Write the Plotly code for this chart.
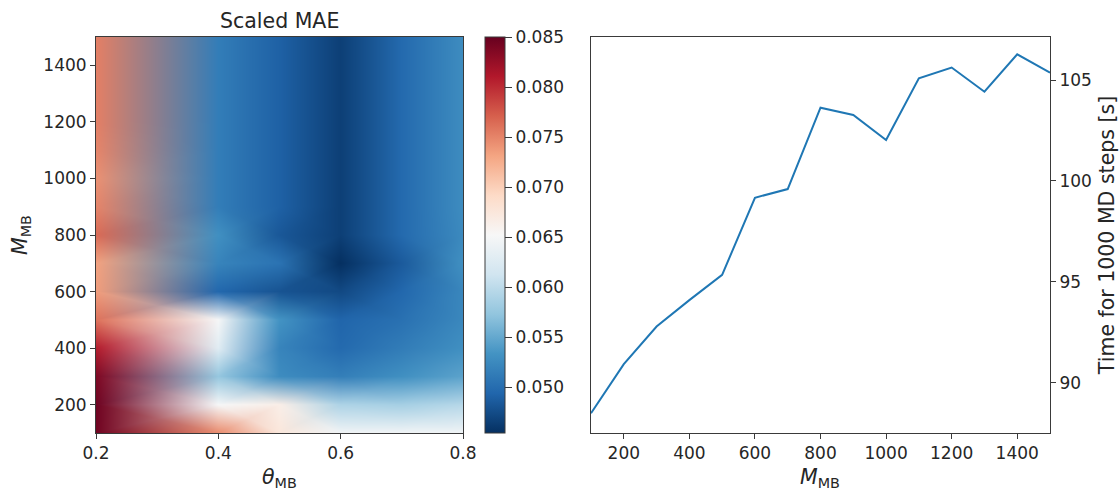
import numpy as np
import plotly.graph_objects as go

theta_mb = [0.2, 0.4, 0.5, 0.6, 0.7, 0.8]
m_mb = [100, 200, 300, 400, 500, 600, 700, 800, 900, 1000, 1100, 1200, 1300, 1400, 1500]
# rows: M_MB ascending; columns: theta_mb
mae = [
    [0.0845, 0.0745, 0.0675, 0.0645, 0.0645, 0.0645],
    [0.0846, 0.0650, 0.0665, 0.0590, 0.0585, 0.0595],
    [0.0838, 0.0575, 0.0527, 0.0515, 0.0530, 0.0545],
    [0.0808, 0.0628, 0.0520, 0.0497, 0.0513, 0.0530],
    [0.0760, 0.0650, 0.0533, 0.0493, 0.0503, 0.0523],
    [0.0736, 0.0495, 0.0480, 0.0472, 0.0495, 0.0522],
    [0.0733, 0.0520, 0.0505, 0.0454, 0.0485, 0.0530],
    [0.0765, 0.0530, 0.0483, 0.0465, 0.0497, 0.0525],
    [0.0750, 0.0514, 0.0490, 0.0465, 0.0497, 0.0527],
    [0.0743, 0.0514, 0.0490, 0.0465, 0.0497, 0.0527],
    [0.0750, 0.0514, 0.0490, 0.0465, 0.0497, 0.0527],
    [0.0753, 0.0514, 0.0490, 0.0465, 0.0497, 0.0527],
    [0.0753, 0.0514, 0.0490, 0.0465, 0.0497, 0.0527],
    [0.0753, 0.0514, 0.0490, 0.0465, 0.0497, 0.0527],
    [0.0753, 0.0514, 0.0490, 0.0465, 0.0497, 0.0527],
]
time_1000 = [88.5, 90.93, 92.79, 94.1, 95.35, 99.17, 99.6, 103.63, 103.27, 102.03,
             105.08, 105.62, 104.42, 106.27, 105.36]
cbar_ticks = [0.05, 0.055, 0.06, 0.065, 0.07, 0.075, 0.08, 0.085]
c_min, c_max = 0.0454, 0.085
rdbu_r = [(5, 48, 97), (33, 102, 172), (67, 147, 195), (146, 197, 222), (209, 229, 240),
          (247, 247, 247), (253, 219, 199), (244, 165, 130), (214, 96, 77), (178, 24, 43),
          (103, 0, 31)]

W, H = 1119, 490
ML, MR = 20, 20
def fx(p): return (p - ML) / (W - ML - MR)
def fy(p): return 1 - p / H

TXT = "#262626"
LINE = "#3a3a3a"
FS_TICK, FS_LABEL = 17, 20.5
axis_common = dict(showline=True, linecolor=LINE, linewidth=1, ticks="outside", ticklen=5,
                   tickcolor=LINE, tickfont=dict(size=FS_TICK, color=TXT), showgrid=False,
                   zeroline=False)


def value_rgb(z):
    stops = np.linspace(0, 1, len(rdbu_r))
    t = np.clip((np.asarray(z) - c_min) / (c_max - c_min), 0, 1)
    return np.stack([np.interp(t, stops, [c[i] for c in rdbu_r]) for i in range(3)], axis=-1)


def gouraud_image(xs, ys, zs, nx, ny):
    """Colour each quad of the data grid with corner colours blended in RGB over
    four triangles meeting at the quad's centre."""
    xs, ys = np.asarray(xs, float), np.asarray(ys, float)
    rgb = value_rgb(zs)
    px = xs[0] + (np.arange(nx) + 0.5) * (xs[-1] - xs[0]) / nx
    py = ys[0] + (np.arange(ny) + 0.5) * (ys[-1] - ys[0]) / ny
    ix = np.clip(np.searchsorted(xs, px) - 1, 0, len(xs) - 2)
    iy = np.clip(np.searchsorted(ys, py) - 1, 0, len(ys) - 2)
    u = ((px - xs[ix]) / (xs[ix + 1] - xs[ix]))[None, :, None]
    v = ((py - ys[iy]) / (ys[iy + 1] - ys[iy]))[:, None, None]
    I, J = np.meshgrid(ix, iy)
    c00, c10 = rgb[J, I], rgb[J, I + 1]
    c01, c11 = rgb[J + 1, I], rgb[J + 1, I + 1]
    mid = (c00 + c10 + c01 + c11) / 4
    bottom = (1 - u - v) * c00 + (u - v) * c10 + 2 * v * mid
    top = (v - u) * c01 + (u + v - 1) * c11 + 2 * (1 - v) * mid
    left = (1 - u - v) * c00 + (v - u) * c01 + 2 * u * mid
    right = (u - v) * c10 + (u + v - 1) * c11 + 2 * (1 - u) * mid
    out = np.where(v <= np.minimum(u, 1 - u), bottom,
                   np.where(v >= np.maximum(u, 1 - u), top, np.where(u < 0.5, left, right)))
    return np.clip(np.rint(out), 0, 255).astype(np.uint8)


nx_img, ny_img = 367, 396
dx_img = (theta_mb[-1] - theta_mb[0]) / nx_img
dy_img = (m_mb[-1] - m_mb[0]) / ny_img

fig = go.Figure()
fig.add_trace(go.Heatmap(x=theta_mb, y=m_mb, z=mae, zsmooth="best", coloraxis="coloraxis",
                         opacity=0, xaxis="x", yaxis="y"))
fig.add_trace(go.Image(z=gouraud_image(theta_mb, m_mb, mae, nx_img, ny_img), colormodel="rgb",
                       x0=theta_mb[0] + dx_img / 2, dx=dx_img,
                       y0=m_mb[0] + dy_img / 2, dy=dy_img, xaxis="x", yaxis="y",
                       hoverinfo="skip"))
fig.add_trace(go.Scatter(x=m_mb, y=time_1000, mode="lines", line=dict(color="#1f77b4", width=2),
                         xaxis="x2", yaxis="y2", showlegend=False))

fig.update_layout(
    width=W, height=H, autosize=False, margin=dict(l=ML, r=MR, t=0, b=0),
    paper_bgcolor="white", plot_bgcolor="white", showlegend=False,
    font=dict(family="DejaVu Sans", color=TXT, size=FS_TICK),
    coloraxis=dict(
        colorscale=[[i / 10, "rgb(%d,%d,%d)" % c] for i, c in enumerate(rdbu_r)],
        cmin=c_min, cmax=c_max,
        colorbar=dict(x=fx(485), xanchor="left", thickness=20, thicknessmode="pixels",
                      y=fy(433), yanchor="bottom", len=396 / H, lenmode="fraction",
                      tickvals=cbar_ticks, tickformat=".3f", ticks="outside", ticklen=7,
                      tickcolor=LINE, tickfont=dict(size=FS_TICK, color=TXT),
                      outlinecolor=LINE, outlinewidth=1, xpad=0, ypad=0),
    ),
    xaxis=dict(axis_common, domain=[fx(96), fx(463)], range=[0.2, 0.8],
               tickvals=[0.2, 0.4, 0.6, 0.8], tickformat=".1f", mirror=True, anchor="y",
               scaleanchor=False),
    yaxis=dict(axis_common, domain=[fy(433), fy(37)], range=[100, 1500],
               tickvals=list(range(200, 1401, 200)), mirror=True, anchor="x", scaleanchor=False,
               title=dict(text="<i>M</i><sub>MB</sub>", font=dict(size=FS_LABEL, color=TXT),
                          standoff=10)),
    xaxis2=dict(axis_common, domain=[fx(591), fx(1050)], range=[100, 1500],
                tickvals=list(range(200, 1401, 200)), mirror=True, anchor="y2"),
    yaxis2=dict(axis_common, domain=[fy(433), fy(37)], range=[87.52, 107.13],
                tickvals=[90, 95, 100, 105], side="right", mirror=True, anchor="x2",
                title=dict(text="Time for 1000 MD steps [s]",
                           font=dict(size=FS_LABEL, color=TXT), standoff=10)),
    annotations=[
        dict(text="Scaled MAE", x=fx(279.5), y=fy(21), xref="paper", yref="paper", showarrow=False,
             xanchor="center", yanchor="middle", font=dict(size=FS_LABEL, color=TXT)),
        dict(text="<i>θ</i><sub>MB</sub>", x=fx(279), y=fy(478), xref="paper", yref="paper",
             xanchor="center", yanchor="middle", showarrow=False,
             font=dict(size=FS_LABEL, color=TXT)),
        dict(text="<i>M</i><sub>MB</sub>", x=fx(820), y=fy(478), xref="paper", yref="paper",
             xanchor="center", yanchor="middle", showarrow=False,
             font=dict(size=FS_LABEL, color=TXT)),
    ],
)
fig.write_html("out.html", config=dict(displayModeBar=False),
               post_script="document.body.style.margin='0';")
